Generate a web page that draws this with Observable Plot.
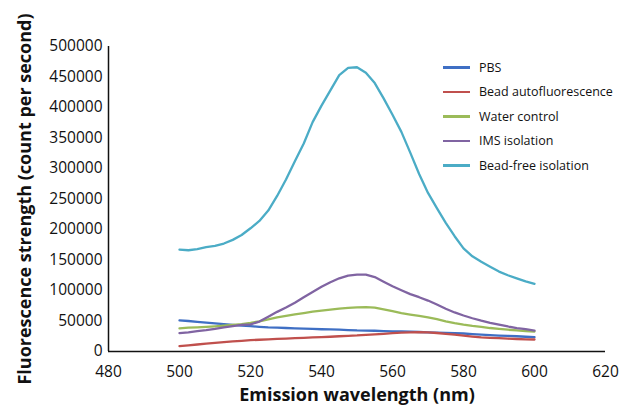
<!DOCTYPE html>
<html>
<head>
<meta charset="utf-8">
<script src="https://cdn.jsdelivr.net/npm/d3@7"></script>
<script src="https://cdn.jsdelivr.net/npm/@observablehq/plot@0.6"></script>
<style>
  html, body { margin: 0; padding: 0; background: #fff; }
  #chart { position: relative; width: 633px; height: 406px; font-family: "Open Sans", sans-serif; }
  #chart svg { font-family: "Open Sans", sans-serif; }
  #chart svg [aria-label="x-axis tick label"] text,
  #chart svg [aria-label="y-axis tick label"] text { font-size: 15.5px; fill: #111; }
  #chart svg [aria-label="x-axis label"] text,
  #chart svg [aria-label="y-axis label"] text { font-size: 18px; font-weight: bold; fill: #111; }
  #legend { position: absolute; left: 443px; top: 55px; font-size: 12.5px; color: #111; }
  #legend .row { display: flex; align-items: center; height: 24.5px; }
  #legend .sw { width: 27px; height: 2.5px; margin-right: 9px; }
</style>
</head>
<body>
<div id="chart"></div>
<script>
// Emission wavelength grid (nm)
const wavelengths = d3.range(500, 600.01, 2.5);

// Tick labels
const xTicks = [480, 500, 520, 540, 560, 580, 600, 620];
const yTicks = [0, 50000, 100000, 150000, 200000, 250000, 300000, 350000, 400000, 450000, 500000];

// Series names and colours
const seriesNames = ["PBS", "Bead autofluorescence", "Water control", "IMS isolation", "Bead-free isolation"];
const seriesColors = ["#3F6FC4", "#C0504D", "#9BBB59", "#8064A2", "#4BACC6"];

// Values (thousands of counts per second), one per wavelength
const pbs = [51, 50, 48.5, 47.3, 46, 44.8, 43.5, 42.5, 41.5, 40.5, 39.5, 39, 38.5, 38, 37.5, 37, 36.5, 36.2, 36, 35.2, 34.5, 34.2, 34, 33.5, 33, 32.8, 32.5, 32, 31.5, 31, 30.5, 30, 29.5, 28.5, 27.5, 26.8, 26, 25.5, 25, 24.2, 23.5];
const beadAuto = [8.7, 10, 11.5, 13, 14, 15.3, 16.5, 17.5, 18.5, 19.3, 20, 20.6, 21.2, 21.8, 22.4, 23, 23.5, 24.2, 25, 25.7, 26.3, 27.3, 28, 29, 30, 30.8, 31.3, 31.6, 31.3, 30.3, 29, 27.5, 26, 24.5, 23.3, 22.5, 21.8, 21, 20.5, 20, 19.7];
const water = [38, 39, 39.5, 40.3, 41.2, 42.2, 43.5, 45, 47, 49.5, 52.8, 56, 58.5, 61, 63, 65.3, 67, 68.8, 70.3, 71.5, 72.4, 72.7, 71.8, 69, 66, 63, 60.5, 58.3, 56, 53, 49.5, 46.5, 44, 42, 40.5, 38.5, 37, 35.7, 34.5, 33.5, 32.8];
const ims = [30, 31.5, 33.5, 35, 37, 39.5, 41.5, 43.5, 44.5, 49, 57, 65, 72, 80, 89, 97.5, 106, 113.5, 120, 124.5, 126, 126, 122, 114.5, 107, 100.5, 94, 89, 83.5, 77, 70, 64, 59, 54.5, 50.5, 47, 44, 41, 38.5, 36.5, 34.4];
const beadFree = [167, 166, 168, 171, 173, 177, 183, 191, 202, 214, 231, 255, 282, 312, 341, 376, 403, 428, 453, 465, 466, 457, 440, 415, 388, 360, 326, 291, 260, 235, 211, 189, 169, 156, 147, 139, 131, 125, 120, 115, 111];

const seriesValues = [pbs, beadAuto, water, ims, beadFree];

const data = seriesNames.flatMap((name, i) =>
  wavelengths.map((w, j) => ({ series: name, wavelength: w, value: seriesValues[i][j] * 1000 }))
);

const plot = Plot.plot({
  width: 633,
  height: 406,
  marginLeft: 108,
  marginRight: 28,
  marginTop: 46,
  marginBottom: 55,
  style: { background: "#fff", overflow: "visible" },
  x: { domain: [480, 620] },
  y: { domain: [0, 500000] },
  color: { domain: seriesNames, range: seriesColors },
  marks: [
    Plot.axisX({ ticks: xTicks, tickSize: 0, tickPadding: 14, label: "Emission wavelength (nm)", labelAnchor: "center", labelArrow: "none", labelOffset: 49 }),
    Plot.axisY({ ticks: yTicks, tickSize: 0, tickPadding: 6, tickFormat: d3.format("d"), label: "Fluorescence strength (count per second)", labelAnchor: "center", labelArrow: "none", labelOffset: 90 }),
    Plot.ruleX([480], { stroke: "#111", strokeWidth: 1.5 }),
    Plot.ruleY([0], { stroke: "#111", strokeWidth: 1.5 }),
    Plot.line(data, { x: "wavelength", y: "value", z: "series", stroke: "series", strokeWidth: 2.3, curve: "linear" })
  ]
});

const chart = document.getElementById("chart");
chart.appendChild(plot);

const legend = document.createElement("div");
legend.id = "legend";
seriesNames.forEach((name, i) => {
  const row = document.createElement("div");
  row.className = "row";
  const sw = document.createElement("div");
  sw.className = "sw";
  sw.style.background = seriesColors[i];
  const label = document.createElement("span");
  label.textContent = name;
  row.appendChild(sw);
  row.appendChild(label);
  legend.appendChild(row);
});
chart.appendChild(legend);
</script>
</body>
</html>
